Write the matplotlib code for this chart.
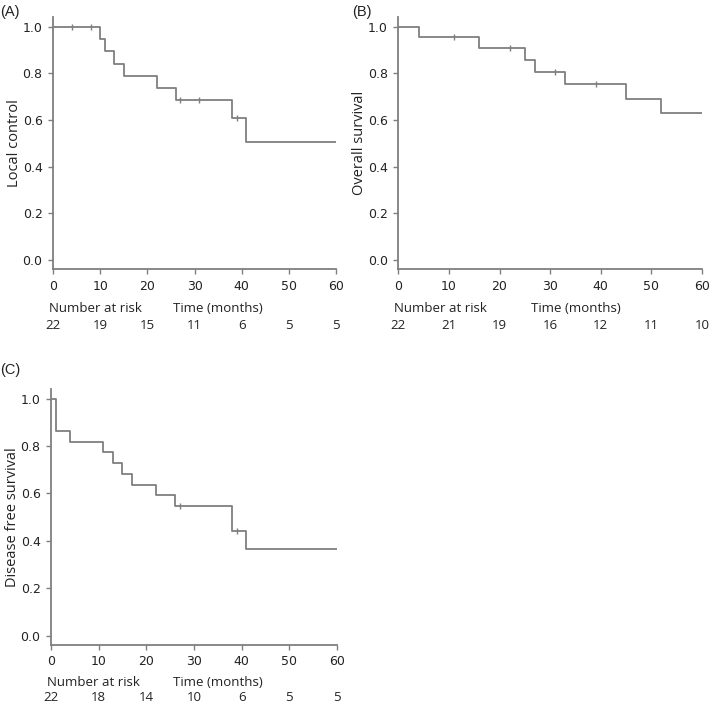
import numpy as np
import matplotlib
matplotlib.use("Agg")
import matplotlib.pyplot as plt

# Kaplan-Meier step data
lc_times = [0, 10, 11, 13, 15, 22, 26, 38, 41, 60]
lc_surv = [1.0, 0.947, 0.895, 0.842, 0.789, 0.737, 0.684, 0.61, 0.506, 0.506]
lc_censor = [4, 8, 27, 31, 39]
lc_risk = [22, 19, 15, 11, 6, 5, 5]

os_times = [0, 4, 16, 25, 27, 33, 45, 52, 60]
os_surv = [1.0, 0.955, 0.907, 0.857, 0.806, 0.753, 0.69, 0.63, 0.63]
os_censor = [11, 22, 31, 39]
os_risk = [22, 21, 19, 16, 12, 11, 10]

dfs_times = [0, 1, 4, 11, 13, 15, 17, 22, 26, 38, 41, 60]
dfs_surv = [1.0, 0.864, 0.818, 0.773, 0.727, 0.682, 0.636, 0.591, 0.545, 0.44, 0.366, 0.366]
dfs_censor = [27, 39]
dfs_risk = [22, 18, 14, 10, 6, 5, 5]

risk_ticks = [0, 10, 20, 30, 40, 50, 60]
y_ticks = [0.0, 0.2, 0.4, 0.6, 0.8, 1.0]

LINE = "#7f7f7f"
TEXT = "#222222"
LABEL_FONT = ["Open Sans", "DejaVu Sans"]


def km_panel(fig, rect, times, surv, censor, risk, ylabel, tag, tag_xy,
             row1=-0.155, row2=-0.222):
    ax = fig.add_axes(rect)
    ax.step(times, surv, where="post", color=LINE, lw=1.3)
    idx = np.searchsorted(times, censor, side="right") - 1
    ax.plot(censor, np.array(surv)[idx], ls="none", marker="|", ms=5,
            mew=1.0, color=LINE)

    ax.set_xlim(0, 60)
    ax.set_ylim(-0.04, 1.04)
    ax.set_xticks(risk_ticks)
    ax.set_yticks(y_ticks)
    ax.set_yticklabels([f"{v:.1f}" for v in y_ticks])
    for s in ("top", "right"):
        ax.spines[s].set_visible(False)
    for s in ("left", "bottom"):
        ax.spines[s].set_color(LINE)
        ax.spines[s].set_linewidth(1.3)
    ax.tick_params(colors=LINE, labelcolor=TEXT, length=3.5, width=1.0,
                   labelsize=9, pad=4)
    ax.set_ylabel(ylabel, fontsize=10.5, color=TEXT, family=LABEL_FONT, labelpad=0.5)

    tr = ax.get_xaxis_transform()
    ax.text(-0.8, row1, "Number at risk", transform=tr, ha="left", va="center",
            fontsize=9.5, color=TEXT, family=LABEL_FONT)
    ax.text(35, row1, "Time (months)", transform=tr, ha="center", va="center",
            fontsize=9.5, color=TEXT, family=LABEL_FONT)
    for x, n in zip(risk_ticks, risk):
        ax.text(x, row2, str(n), transform=tr, ha="center", va="center",
                fontsize=9.5, color=TEXT, family=LABEL_FONT)

    fig.text(tag_xy[0], tag_xy[1], tag, ha="left", va="center", fontsize=10.5,
             color=TEXT, family="Liberation Sans")
    return ax


fig = plt.figure(figsize=(7.09, 7.05), dpi=100)

km_panel(fig, [0.0748, 0.618, 0.3992, 0.3573], lc_times, lc_surv, lc_censor,
         lc_risk, "Local control", "(A)", (0.0, 0.983))
km_panel(fig, [0.5618, 0.618, 0.4283, 0.3573], os_times, os_surv, os_censor,
         os_risk, "Overall survival", "(B)", (0.497, 0.983))
km_panel(fig, [0.0719, 0.0851, 0.4034, 0.363], dfs_times, dfs_surv, dfs_censor,
         dfs_risk, "Disease free survival", "(C)", (0.0, 0.475),
         row1=-0.148, row2=-0.205)

fig.savefig("out.png", dpi=100)
plt.close(fig)
